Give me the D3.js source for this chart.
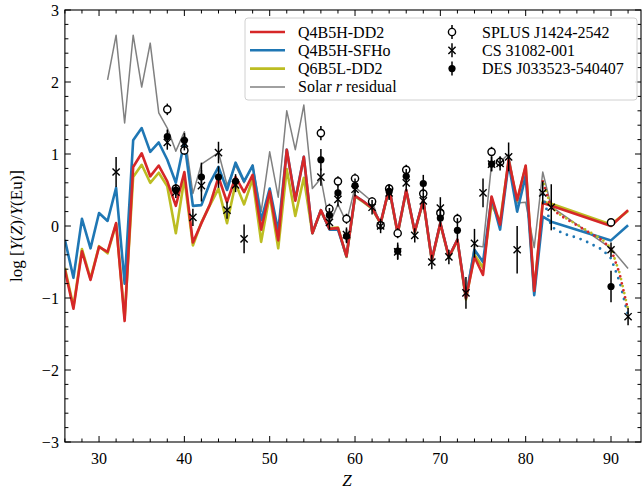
<head>
<meta charset="utf-8">
<style>
  body { margin: 0; background: #fff; }
  svg text { font-family: "Liberation Serif", "DejaVu Serif", serif; fill: #000; }
</style>
<script src="https://d3js.org/d3.v7.min.js"></script>
</head>
<body>
<div id="chart"></div>
<script>

// model abundances, log Y(Z)/Y(Eu)
var zModel = [26,27,28,29,30,31,32,33,34,35,36,37,38,39,40,41,42,43,44,45,46,47,48,49,50,51,52,53,54,55,
              56,57,58,59,60,61,62,63,64,65,66,67,68,69,70,71,72,73,74,75,76,77,78,79,80,81,82,83,90,92];
var q4b5hDD2 = [-0.61,-1.15,-0.35,-0.75,-0.29,-0.36,0.04,-1.32,0.82,1.01,0.69,0.84,0.62,0.28,0.75,-0.23,0.04,0.30,0.68,0.33,
                0.68,0.47,0.71,-0.05,0.48,-0.20,1.06,0.35,0.96,-0.10,0.22,-0.04,-0.03,-0.42,0.42,0.34,0.25,0.04,0.53,-0.10,
                0.50,-0.08,0.36,-0.47,0.04,-0.43,-0.19,-1.00,-0.43,-0.68,0.41,0.02,0.92,0.36,0.84,-0.90,0.32,0.28,0.00,0.22];
var q4b5hSFHo = [-0.19,-0.72,0.10,-0.31,0.18,0.07,0.53,-0.80,1.19,1.36,1.03,1.16,0.92,0.60,1.17,0.28,0.29,0.60,0.82,0.50,
                 0.88,0.62,0.84,0.08,0.52,-0.07,1.06,0.37,0.96,-0.10,0.22,-0.05,-0.05,-0.42,0.42,0.34,0.25,0.04,0.53,-0.10,
                 0.50,-0.08,0.36,-0.47,0.04,-0.43,-0.19,-1.00,-0.33,-0.50,0.39,-0.05,0.87,0.20,0.70,-0.96,0.13,0.06,-0.20,0.01];
var q6b5lDD2 = [-0.58,-1.12,-0.32,-0.73,-0.28,-0.38,0.03,-1.28,0.68,0.85,0.60,0.74,0.55,-0.10,0.66,-0.27,0.05,0.29,0.52,0.04,
                0.59,0.30,0.65,-0.22,0.43,-0.31,0.79,0.14,0.67,-0.10,0.21,-0.03,-0.02,-0.43,0.41,0.33,0.24,0.03,0.52,-0.11,
                0.49,-0.09,0.35,-0.48,0.03,-0.44,-0.20,-1.02,-0.40,-0.58,0.30,0.06,0.90,0.35,0.83,-0.92,0.34,0.31,0.02,0.21];

// solar r-process residual
var zSolar = [31,32,33,34,35,36,37,38,39,40,41,42,44,45,46,47,48,49,50,51,52,53,54,55,56,57,58,59,60,
              62,63,64,65,66,67,68,69,70,71,72,73,74,75,76,77,78,79,80,81,82,83,90,92];
var solarR = [2.03,2.65,1.43,2.65,1.93,2.54,1.57,1.36,1.04,1.31,0.45,0.86,1.02,0.57,0.84,0.60,0.85,0.20,1.03,0.40,
              1.60,1.06,1.68,0.52,0.66,0.03,0.30,0.05,0.54,0.34,0.01,0.52,-0.10,0.50,-0.06,0.38,-0.45,0.06,-0.42,-0.20,
              -0.97,-0.27,-0.29,0.86,0.89,1.00,0.32,0.33,-0.30,0.75,0.27,-0.31,-0.59];

// decayed actinide region (dotted)
var zDecay = [82,83,84,85,86,87,88,89,90,91,92];
var decayDD2  = [0.62,0.25,0.15,0.08,0.01,-0.06,-0.13,-0.20,-0.32,-0.66,-1.17];
var decaySFHo = [0.43,-0.01,-0.08,-0.13,-0.16,-0.21,-0.27,-0.33,-0.45,-0.77,-1.24];
var decayQ6   = [0.63,0.26,0.16,0.09,0.02,-0.05,-0.12,-0.19,-0.31,-0.65,-1.16];

// stars
var zSplus   = [38,39,40,56,57,58,59,60,62,63,64,65,66,68,70,72,76,77,90];
var splusVal = [1.62,0.52,1.05,1.29,0.24,0.62,0.10,0.66,0.34,0.01,0.52,-0.10,0.78,0.45,0.18,0.10,1.03,0.89,0.05];
var splusErr = [0.08,0.06,0.06,0.1,0.07,0.07,0.07,0.07,0.06,0.06,0.06,0.07,0.07,0.07,0.07,0.07,0.07,0.07,0.05];

var zCs   = [32,38,39,40,41,42,44,45,46,47,56,57,58,59,60,62,63,64,65,66,67,68,69,70,71,73,74,75,76,77,78,79,82,83,90,92];
var csVal = [0.75,1.16,0.47,1.15,0.12,0.56,1.02,0.22,0.57,-0.18,0.68,0.05,0.37,-0.12,0.51,0.26,0.00,0.46,-0.36,0.60,
             -0.13,0.35,-0.50,0.25,-0.43,-0.93,-0.24,0.46,0.86,0.87,0.96,-0.33,0.46,0.26,-0.33,-1.26];
var csErr = [0.21,0.10,0.08,0.10,0.12,0.22,0.15,0.12,0.10,0.20,0.12,0.10,0.10,0.10,0.10,0.10,0.10,0.10,0.10,0.12,
             0.10,0.12,0.10,0.15,0.10,0.22,0.20,0.20,0.10,0.10,0.20,0.33,0.16,0.32,0.10,0.12];

var zDes   = [38,39,40,42,44,46,56,57,58,59,60,64,65,66,68,70,72,76,90];
var desVal = [1.24,0.50,1.19,0.68,0.68,0.62,0.92,0.15,0.46,-0.14,0.56,0.48,-0.35,0.69,0.59,0.11,-0.06,0.86,-0.84];
var desErr = [0.10,0.08,0.10,0.20,0.15,0.10,0.15,0.10,0.10,0.10,0.10,0.10,0.12,0.10,0.12,0.12,0.17,0.10,0.22];

var xTicks = [30,40,50,60,70,80,90];
var yTicks = [-3,-2,-1,0,1,2,3];

var W = 642, H = 492;
var margin = {top: 10, left: 64.9, right: 1, bottom: 50};
var width = W - margin.left - margin.right,
    height = H - margin.top - margin.bottom;

var svg = d3.select("#chart").append("svg")
    .attr("width", W)
    .attr("height", H);

var g = svg.append("g")
    .attr("transform", "translate(" + margin.left + "," + margin.top + ")");

var x = d3.scaleLinear().domain([26, 26 + width / 8.533]).range([0, width]);
var y = d3.scaleLinear().domain([-3, 3]).range([height, 0]);

var red = "#d62728", blue = "#1f77b4", olive = "#bcbd22", grey = "#808080";

g.append("defs").append("clipPath").attr("id", "clip")
    .append("rect").attr("width", width).attr("height", height);

var plot = g.append("g").attr("clip-path", "url(#clip)");

function addLine(zs, vals, col, sw, dash, offset) {
    var p = plot.append("path")
        .datum(zs.map(function(z, i) { return [z, vals[i]]; }))
        .attr("fill", "none")
        .attr("stroke", col)
        .attr("stroke-width", sw)
        .attr("stroke-linejoin", "round")
        .attr("d", d3.line().x(d => x(d[0])).y(d => y(d[1])));
    if (dash) {
        p.attr("stroke-dasharray", dash).attr("stroke-linecap", "round");
        if (offset) p.attr("stroke-dashoffset", offset);
    }
}

addLine(zSolar, solarR, grey, 1.5);
addLine(zModel, q6b5lDD2, olive, 2.6);
addLine(zModel, q4b5hSFHo, blue, 2.6);
addLine(zModel, q4b5hDD2, red, 2.6);
addLine(zDecay, decaySFHo, blue, 2.8, "0,7.2");
addLine(zDecay, decayQ6, olive, 2.8, "0,7.2", 3.6);
addLine(zDecay, decayDD2, red, 2.8, "0,7.2");

// observations
function drawMarker(sel, kind, cx, cy) {
    if (kind == "open") {
        sel.append("circle").attr("cx", cx).attr("cy", cy).attr("r", 3.6)
            .attr("fill", "#fff").attr("stroke", "#000").attr("stroke-width", 1.4);
    } else if (kind == "filled") {
        sel.append("circle").attr("cx", cx).attr("cy", cy).attr("r", 3.6).attr("fill", "#000");
    } else {
        var s = 3.6;
        sel.append("path")
            .attr("d", "M" + (cx - s) + "," + (cy - s) + "L" + (cx + s) + "," + (cy + s) +
                       "M" + (cx - s) + "," + (cy + s) + "L" + (cx + s) + "," + (cy - s))
            .attr("stroke", "#000").attr("stroke-width", 1.4).attr("fill", "none");
    }
}

function addStar(zs, vals, errs, kind) {
    var s = plot.append("g");
    zs.forEach(function(z, i) {
        s.append("line")
            .attr("x1", x(z)).attr("x2", x(z))
            .attr("y1", y(vals[i] - errs[i])).attr("y2", y(vals[i] + errs[i]))
            .attr("stroke", "#000").attr("stroke-width", 1.5);
        drawMarker(s, kind, x(z), y(vals[i]));
    });
}

addStar(zSplus, splusVal, splusErr, "open");
addStar(zCs, csVal, csErr, "cross");
addStar(zDes, desVal, desErr, "filled");

// axes with inward ticks on all sides
function tickSet(scale, major, minorStep) {
    var d = scale.domain();
    var minor = d3.range(Math.ceil(d[0] / minorStep) * minorStep, d[1] + 1e-9, minorStep)
        .filter(v => !major.some(m => Math.abs(m - v) < 1e-6));
    return minor;
}
var xMinor = tickSet(x, xTicks, 2);
var yMinor = tickSet(y, yTicks, 0.2);

var ax = g.append("g").attr("stroke", "#000").attr("stroke-width", 1);
xTicks.forEach(function(t) {
    ax.append("line").attr("x1", x(t)).attr("x2", x(t)).attr("y1", height).attr("y2", height - 6);
    ax.append("line").attr("x1", x(t)).attr("x2", x(t)).attr("y1", 0).attr("y2", 6);
});
xMinor.forEach(function(t) {
    ax.append("line").attr("x1", x(t)).attr("x2", x(t)).attr("y1", height).attr("y2", height - 3.5);
    ax.append("line").attr("x1", x(t)).attr("x2", x(t)).attr("y1", 0).attr("y2", 3.5);
});
yTicks.forEach(function(t) {
    ax.append("line").attr("y1", y(t)).attr("y2", y(t)).attr("x1", 0).attr("x2", 6);
    ax.append("line").attr("y1", y(t)).attr("y2", y(t)).attr("x1", width).attr("x2", width - 6);
});
yMinor.forEach(function(t) {
    ax.append("line").attr("y1", y(t)).attr("y2", y(t)).attr("x1", 0).attr("x2", 3.5);
    ax.append("line").attr("y1", y(t)).attr("y2", y(t)).attr("x1", width).attr("x2", width - 3.5);
});
g.append("rect").attr("width", width).attr("height", height)
    .attr("fill", "none").attr("stroke", "#000").attr("stroke-width", 1.1);

g.append("g").selectAll("text").data(xTicks).join("text")
    .attr("x", d => x(d)).attr("y", height + 22)
    .attr("text-anchor", "middle").attr("font-size", 16)
    .text(d => d);

g.append("g").selectAll("text").data(yTicks).join("text")
    .attr("x", -6).attr("y", d => y(d) + 5.5)
    .attr("text-anchor", "end").attr("font-size", 16)
    .text(d => d < 0 ? "\u2212" + Math.abs(d) : d);

g.append("text")
    .attr("x", width / 2 - 6).attr("y", height + 44)
    .attr("text-anchor", "middle").attr("font-size", 17).attr("font-style", "italic")
    .text("Z");

var yl = svg.append("text")
    .attr("transform", "translate(22," + (margin.top + height / 2) + ") rotate(-90)")
    .attr("text-anchor", "middle").attr("font-size", 17);
yl.append("tspan").text("log [");
yl.append("tspan").attr("font-style", "italic").text("Y");
yl.append("tspan").text("(");
yl.append("tspan").attr("font-style", "italic").text("Z");
yl.append("tspan").text(")/");
yl.append("tspan").attr("font-style", "italic").text("Y");
yl.append("tspan").text("(Eu)]");

// legend
var lineNames = ["Q4B5H-DD2", "Q4B5H-SFHo", "Q6B5L-DD2", "Solar r residual"];
var lineCols = [red, blue, olive, grey];
var starNames = ["SPLUS J1424-2542", "CS 31082-001", "DES J033523-540407"];
var starKinds = ["open", "cross", "filled"];

var leg = svg.append("g").attr("transform", "translate(245,18)");
leg.append("rect").attr("width", 392).attr("height", 82).attr("rx", 3)
    .attr("fill", "#fff").attr("fill-opacity", 0.85).attr("stroke", "#d0d0d0");

lineNames.forEach(function(n, i) {
    var yy = 14 + i * 18.3;
    leg.append("line").attr("x1", 5).attr("x2", 40).attr("y1", yy).attr("y2", yy)
        .attr("stroke", lineCols[i]).attr("stroke-width", i == 3 ? 1.5 : 2.6);
    var t = leg.append("text").attr("x", 53).attr("y", yy + 5.5).attr("font-size", 16);
    if (i == 3) {
        t.append("tspan").text("Solar ");
        t.append("tspan").attr("font-style", "italic").text("r");
        t.append("tspan").text(" residual");
    } else {
        t.text(n);
    }
});

starNames.forEach(function(n, i) {
    var yy = 14 + i * 18.3;
    leg.append("line").attr("x1", 207).attr("x2", 207).attr("y1", yy - 7).attr("y2", yy + 7)
        .attr("stroke", "#000").attr("stroke-width", 1.5);
    drawMarker(leg, starKinds[i], 207, yy);
    leg.append("text").attr("x", 237).attr("y", yy + 5.5).attr("font-size", 16).text(n);
});

</script>
</body>
